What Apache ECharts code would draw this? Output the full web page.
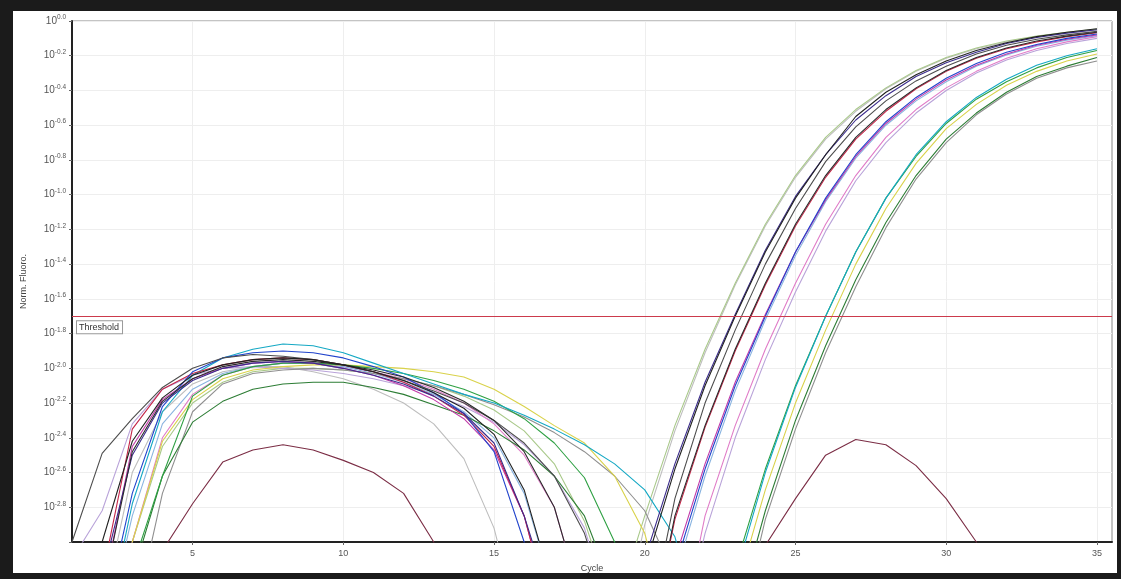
<!DOCTYPE html>
<html>
<head>
<meta charset="utf-8">
<script src="https://cdn.jsdelivr.net/npm/echarts@6/dist/echarts.min.js"></script>
<style>
  html, body { margin: 0; padding: 0; background: #1b1b1b; }
  #frame { position: absolute; left: 13px; top: 11px; width: 1104px; height: 562px; background: #fff; }
  #chart { width: 1104px; height: 562px; }
</style>
</head>
<body>
<div id="frame"><div id="chart"></div></div>
<script>
// cycle numbers (x) and log10 of normalised fluorescence (y) per well
var cycles = [1,2,3,4,5,6,7,8,9,10,11,12,13,14,15,16,17,18,19,20,21,22,23,24,25,26,27,28,29,30,31,32,33,34,35];
var cycleTicks = [5, 10, 15, 20, 25, 30, 35];
var threshold = -1.7;

var wellA1 = [-3.6,-3.0,-2.42,-2.17,-2.04,-1.98,-1.95,-1.94,-1.95,-1.98, -2.02,-2.07,-2.14,-2.23,-2.38,-2.70,-3.3,-3.6,-3.6,-3.15, -2.58,-2.10,-1.70,-1.33,-1.02,-0.77,-0.55,-0.41,-0.31,-0.23, -0.17,-0.125,-0.09,-0.065,-0.045];
var wellA2 = [-3.7,-3.2,-2.50,-2.20,-2.07,-2.00,-1.97,-1.96,-1.97,-2.00, -2.04,-2.09,-2.16,-2.26,-2.43,-2.85,-3.4,-3.6,-3.6,-3.1, -2.55,-2.08,-1.69,-1.32,-1.01,-0.77,-0.57,-0.43,-0.32,-0.24, -0.18,-0.13,-0.095,-0.07,-0.05];
var wellA3 = [-3.8,-3.5,-3.0,-2.45,-2.20,-2.08,-2.02,-2.00,-2.00,-2.01, -2.03,-2.06,-2.10,-2.16,-2.24,-2.36,-2.55,-2.88,-3.4,-2.85, -2.33,-1.89,-1.51,-1.17,-0.89,-0.67,-0.51,-0.385,-0.285,-0.21, -0.155,-0.115,-0.087,-0.065,-0.047];
var wellA4 = [-3.8,-3.4,-2.60,-2.25,-2.09,-2.02,-1.99,-1.99,-2.02,-2.06, -2.12,-2.20,-2.32,-2.52,-2.92,-3.6,-3.7,-3.7,-3.7,-2.9, -2.36,-1.91,-1.52,-1.18,-0.90,-0.68,-0.52,-0.39,-0.29,-0.215, -0.16,-0.12,-0.09,-0.068,-0.05];
var wellA5 = [-3.0,-2.49,-2.29,-2.11,-2.00,-1.94,-1.92,-1.93,-1.95,-1.98, -2.02,-2.07,-2.13,-2.20,-2.30,-2.43,-2.62,-2.95,-3.5,-3.6, -2.75,-2.20,-1.78,-1.40,-1.08,-0.81,-0.61,-0.46,-0.345,-0.26, -0.19,-0.14,-0.105,-0.08,-0.06];
var wellB1 = [-3.8,-3.3,-2.48,-2.19,-2.06,-1.99,-1.96,-1.95,-1.96,-1.98, -2.01,-2.05,-2.11,-2.19,-2.30,-2.48,-2.80,-3.4,-3.7,-3.7, -2.85,-2.33,-1.89,-1.51,-1.17,-0.89,-0.67,-0.51,-0.385,-0.285, -0.21,-0.155,-0.115,-0.087,-0.065];
var wellB2 = [-3.8,-3.5,-2.72,-2.22,-2.02,-1.94,-1.91,-1.90,-1.91,-1.94, -1.99,-2.05,-2.14,-2.26,-2.48,-3.0,-3.6,-3.7,-3.7,-3.7, -3.15,-2.58,-2.10,-1.70,-1.33,-1.02,-0.77,-0.58,-0.44,-0.33, -0.245,-0.18,-0.135,-0.10,-0.075];
var wellB3 = [-3.8,-3.3,-2.45,-2.18,-2.06,-2.00,-1.97,-1.96,-1.97,-2.00, -2.04,-2.10,-2.18,-2.29,-2.47,-2.85,-3.5,-3.7,-3.7,-3.7, -3.1,-2.55,-2.08,-1.69,-1.33,-1.03,-0.78,-0.59,-0.45,-0.34, -0.255,-0.19,-0.14,-0.105,-0.08];
var wellB4 = [-3.8,-3.2,-2.35,-2.12,-2.03,-1.98,-1.95,-1.94,-1.95,-1.98, -2.02,-2.08,-2.16,-2.27,-2.45,-2.85,-3.5,-3.7,-3.7,-3.7, -2.87,-2.34,-1.90,-1.52,-1.18,-0.90,-0.68,-0.52,-0.39,-0.29, -0.215,-0.16,-0.12,-0.09,-0.068];
var wellB5 = [-3.9,-3.6,-2.85,-2.32,-2.12,-2.03,-1.99,-1.97,-1.97,-1.99, -2.03,-2.08,-2.15,-2.25,-2.40,-2.72,-3.3,-3.7,-3.7,-3.7, -3.2,-2.62,-2.13,-1.72,-1.35,-1.04,-0.79,-0.60,-0.46,-0.35, -0.26,-0.195,-0.145,-0.11,-0.085];
var wellC1 = [-3.9,-3.6,-3.0,-2.40,-2.15,-2.04,-1.99,-1.97,-1.97,-1.99, -2.02,-2.06,-2.12,-2.20,-2.32,-2.50,-2.80,-3.4,-3.7,-3.7, -3.7,-2.85,-2.33,-1.89,-1.51,-1.17,-0.89,-0.67,-0.51,-0.385, -0.29,-0.215,-0.16,-0.12,-0.09];
var wellC2 = [-3.1,-2.82,-2.32,-2.12,-2.04,-2.00,-1.99,-2.00,-2.01,-2.03, -2.06,-2.10,-2.15,-2.22,-2.31,-2.44,-2.62,-2.92,-3.5,-3.7, -3.7,-2.95,-2.40,-1.95,-1.56,-1.21,-0.92,-0.70,-0.53,-0.40, -0.30,-0.225,-0.17,-0.13,-0.10];
var wellD1 = [-3.9,-3.8,-3.15,-2.62,-2.16,-2.04,-1.99,-1.97,-1.97,-1.98, -2.00,-2.03,-2.07,-2.12,-2.19,-2.29,-2.43,-2.63,-3.0,-3.6, -3.8,-3.8,-3.15,-2.58,-2.10,-1.70,-1.33,-1.02,-0.78,-0.59, -0.45,-0.35,-0.27,-0.21,-0.17];
var wellD2 = [-3.9,-3.6,-2.78,-2.25,-2.04,-1.94,-1.89,-1.86,-1.87,-1.91, -1.97,-2.03,-2.09,-2.15,-2.20,-2.27,-2.35,-2.44,-2.55,-2.70, -2.97,-3.6,-3.2,-2.60,-2.11,-1.70,-1.33,-1.02,-0.77,-0.58, -0.44,-0.335,-0.255,-0.20,-0.16];
var wellD3 = [-3.9,-3.7,-3.0,-2.42,-2.18,-2.06,-2.01,-1.99,-1.98,-1.98, -1.99,-2.00,-2.02,-2.05,-2.12,-2.22,-2.33,-2.43,-2.62,-2.95, -3.6,-3.8,-3.3,-2.70,-2.20,-1.78,-1.40,-1.08,-0.82,-0.62, -0.48,-0.37,-0.29,-0.23,-0.19];
var wellD4 = [-3.9,-3.8,-3.5,-2.72,-2.25,-2.09,-2.03,-2.01,-2.00,-2.01, -2.03,-2.06,-2.10,-2.15,-2.21,-2.28,-2.37,-2.48,-2.62,-2.82, -3.2,-3.8,-3.6,-2.87,-2.35,-1.91,-1.53,-1.19,-0.91,-0.70, -0.54,-0.42,-0.33,-0.27,-0.23];
var wellD5 = [-3.9,-3.8,-3.2,-2.62,-2.31,-2.19,-2.12,-2.09,-2.08,-2.08, -2.11,-2.15,-2.21,-2.27,-2.36,-2.47,-2.62,-2.85,-3.3,-3.8, -3.8,-3.8,-3.45,-2.82,-2.30,-1.87,-1.49,-1.16,-0.89,-0.68, -0.53,-0.41,-0.32,-0.26,-0.21];
var wellNTC = [-3.8,-3.8,-3.8,-3.05,-2.78,-2.54,-2.47,-2.44,-2.47,-2.53, -2.60,-2.72,-3.0,-3.8,-3.8,-3.8,-3.8,-3.8,-3.8,-3.8, -3.8,-3.8,-3.8,-3.02,-2.75,-2.50,-2.41,-2.44,-2.56,-2.75, -3.0,-3.8,-3.8,-3.8,-3.8];

var wellNames = ['A4', 'A3', 'C2', 'C1', 'B5', 'D4', 'D3', 'D5', 'D1', 'D2', 'B3', 'B4', 'B2', 'A5', 'A2', 'B1', 'A1', 'NTC'];
var wellValues = [wellA4, wellA3, wellC2, wellC1, wellB5, wellD4, wellD3, wellD5, wellD1, wellD2, wellB3, wellB4, wellB2, wellA5, wellA2, wellB1, wellA1, wellNTC];
var wellColors = ['#bdbdbd', '#a9c98a', '#b9a3d9', '#e07cc8', '#8ab4e0', '#8f8f8f', '#d9d24a', '#2d7d35', '#2ea043', '#14a8c4', '#c23aa8', '#c42548', '#2244cc', '#4d4d4d', '#3b2c8c', '#2b2b2b', '#222222', '#7b2d45'];

var font = "'Liberation Sans', Arial, sans-serif";

function pairs(vals) {
  var out = [];
  for (var i = 0; i < cycles.length; i++) out.push([cycles[i], vals[i]]);
  return out;
}

var series = [];
for (var k = 0; k < wellValues.length; k++) {
  series.push({
    name: wellNames[k],
    type: 'line',
    data: pairs(wellValues[k]),
    showSymbol: false,
    silent: true,
    clip: true,
    lineStyle: { color: wellColors[k], width: 1.1 }
  });
}
// threshold line (own series so it takes the red colour) with its label
series.push({
  name: 'Threshold',
  type: 'line',
  data: [],
  color: '#cc3a4c',
  silent: true,
  markLine: {
    silent: true,
    symbol: 'none',
    animation: false,
    lineStyle: { color: '#cc3a4c', width: 1.2, type: 'solid' },
    label: {
      show: true, position: 'insideStartBottom', formatter: 'Threshold',
      color: '#333', fontSize: 9, fontFamily: font,
      backgroundColor: '#fff', borderColor: '#999', borderWidth: 1, padding: [2, 3, 1, 2]
    },
    data: [{ yAxis: threshold }]
  }
});

var chart = echarts.init(document.getElementById('chart'));
chart.setOption({
  animation: false,
  grid: { left: 59, top: 10, right: 5, bottom: 31, outerBoundsMode: 'none', containLabel: false,
          show: true, borderColor: '#888', borderWidth: 1, backgroundColor: '#fff' },
  xAxis: {
    type: 'value', min: 1, max: 35.5,
    name: 'Cycle', nameLocation: 'middle', nameGap: 22,
    nameTextStyle: { fontSize: 9, color: '#444', fontFamily: font },
    axisLine: { show: true, onZero: false, lineStyle: { color: '#222', width: 2 } },
    axisTick: { show: true, length: 3, customValues: cycleTicks, lineStyle: { color: '#666' } },
    axisLabel: { customValues: cycleTicks, fontSize: 9, color: '#555', margin: 7, fontFamily: font },
    splitLine: { show: true, lineStyle: { color: '#eeeeee' } }
  },
  yAxis: {
    type: 'value', min: -3, max: 0, interval: 0.2,
    name: 'Norm. Fluoro.', nameLocation: 'middle', nameGap: 44,
    nameTextStyle: { fontSize: 9, color: '#444', fontFamily: font },
    axisLine: { show: true, onZero: false, lineStyle: { color: '#222', width: 2 } },
    axisTick: { show: true, length: 3, lineStyle: { color: '#666' } },
    axisLabel: {
      fontSize: 10, color: '#555', margin: 6, fontFamily: font,
      formatter: function (v) {
        if (v < -2.95) return '';
        var s = Math.abs(v) < 1e-9 ? '0.0' : v.toFixed(1);
        return '10{s|' + s + '}';
      },
      rich: { s: { fontSize: 6.5, color: '#555', padding: [0, 0, 7, 0], fontFamily: font } }
    },
    splitLine: { show: true, lineStyle: { color: '#eeeeee' } }
  },
  series: series
});
</script>
</body>
</html>
